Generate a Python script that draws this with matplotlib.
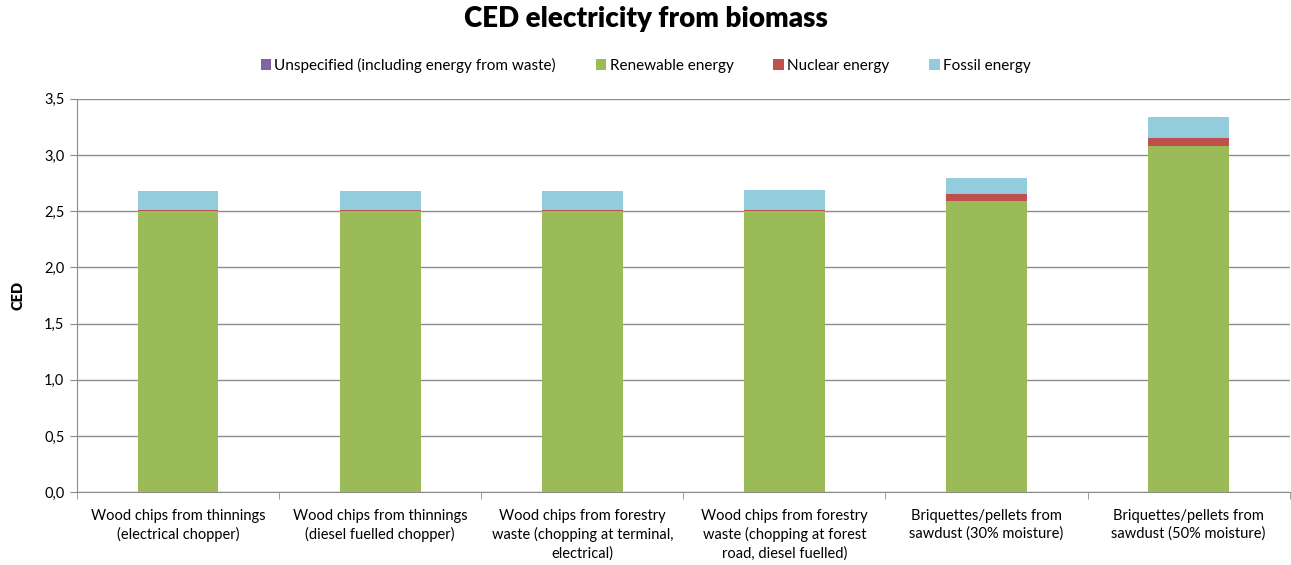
import matplotlib.pyplot as plt
import numpy as np
from matplotlib.ticker import FuncFormatter, FixedLocator

plt.rcParams["font.family"] = ["Lato", "DejaVu Sans"]

categories = [
    "Wood chips from thinnings\n(electrical chopper)",
    "Wood chips from thinnings\n(diesel fuelled chopper)",
    "Wood chips from forestry\nwaste (chopping at terminal,\nelectrical)",
    "Wood chips from forestry\nwaste (chopping at forest\nroad, diesel fuelled)",
    "Briquettes/pellets from\nsawdust (30% moisture)",
    "Briquettes/pellets from\nsawdust (50% moisture)",
]
unspecified = [0.0, 0.0, 0.0, 0.0, 0.0, 0.0]
renewable = [2.50, 2.50, 2.50, 2.50, 2.59, 3.08]
nuclear = [0.01, 0.01, 0.01, 0.01, 0.06, 0.07]
fossil = [0.17, 0.17, 0.17, 0.18, 0.15, 0.19]

series = [
    ("Unspecified (including energy from waste)", unspecified, "#8064A2"),
    ("Renewable energy", renewable, "#9BBB59"),
    ("Nuclear energy", nuclear, "#C0504D"),
    ("Fossil energy", fossil, "#93CDDD"),
]

fig = plt.figure(figsize=(12.91, 5.65), dpi=100)
ax = fig.add_axes([0.0596, 0.129, 0.9394, 0.696])

x = np.arange(len(categories))
bottom = np.zeros(len(categories))
for label, vals, color in series:
    ax.bar(x, vals, width=0.4, bottom=bottom, color=color, label=label, zorder=3)
    bottom += np.array(vals)

ax.set_xlim(-0.5, len(categories) - 0.5)
ax.set_ylim(0, 3.5)
ax.set_yticks(np.arange(0, 3.51, 0.5))
ax.yaxis.set_major_formatter(FuncFormatter(lambda v, _: f"{v:.1f}".replace(".", ",")))
ax.grid(axis="y", color="#8c8c8c", linewidth=1.0, zorder=0)

ax.set_xticks(x)
ax.set_xticklabels(categories, fontsize=10.5, linespacing=1.35)
ax.xaxis.set_minor_locator(FixedLocator(np.arange(-0.5, len(categories), 1.0)))
ax.tick_params(axis="x", which="major", length=0, pad=12)
ax.tick_params(axis="x", which="minor", length=5, color="#8c8c8c")
ax.tick_params(axis="y", length=5, color="#8c8c8c", labelsize=10.5, pad=4)

for side in ["top", "right"]:
    ax.spines[side].set_visible(False)
for side in ["left", "bottom"]:
    ax.spines[side].set_color("#8c8c8c")

ax.set_ylabel("CED", fontsize=10.5, fontweight="heavy", labelpad=14)

fig.suptitle("CED electricity from biomass", x=0.5, y=0.99, fontsize=20, fontweight="heavy")
fig.legend(loc="center", bbox_to_anchor=(0.5, 0.885), ncol=4, frameon=False,
           fontsize=11, handlelength=0.7, handleheight=0.7, handletextpad=0.2,
           columnspacing=2.6)

fig.savefig("out.png", dpi=100)
